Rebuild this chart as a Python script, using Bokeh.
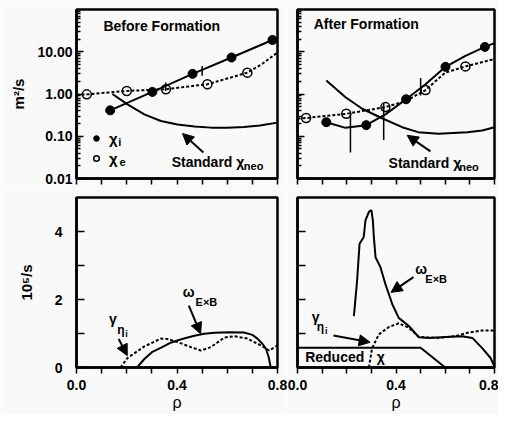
from bokeh.plotting import figure
from bokeh.layouts import column, row
from bokeh.models import (FixedTicker, PrintfTickFormatter, CustomJSTickFormatter, Label,
                          Arrow, NormalHead, Legend, LegendItem, Range1d)
from bokeh.embed import file_html
from bokeh.resources import INLINE

# ---------------- data ----------------
# Before formation (top-left)
chi_i_before_rho = [0.134, 0.302, 0.462, 0.617, 0.78]
chi_i_before = [0.41, 1.12, 3.0, 7.3, 19.0]
chi_i_before_curve_rho = [0.134, 0.302, 0.462, 0.617, 0.78, 0.8]
chi_i_before_curve = [0.41, 1.12, 3.0, 7.3, 19.0, 21.0]
chi_e_before_rho = [0.041, 0.2, 0.356, 0.521, 0.68]
chi_e_before = [0.98, 1.18, 1.3, 1.7, 3.2]
chi_e_before_curve_rho = [0.0, 0.041, 0.2, 0.356, 0.521, 0.68, 0.74, 0.8]
chi_e_before_curve = [0.96, 0.98, 1.18, 1.3, 1.7, 3.2, 5.2, 9.6]
neo_before_rho = [0.143, 0.203, 0.27, 0.336, 0.402, 0.47, 0.535, 0.6, 0.667, 0.73, 0.8]
neo_before = [1.0, 0.57, 0.33, 0.23, 0.19, 0.17, 0.16, 0.158, 0.165, 0.18, 0.21]
err_before_rho = [0.355, 0.5]
err_before_low = [1.17, 2.7]
err_before_high = [1.86, 4.6]

# After formation (top-right)
chi_i_after_rho = [0.117, 0.279, 0.441, 0.601, 0.761]
chi_i_after = [0.215, 0.183, 0.75, 4.4, 13.0]
chi_i_after_curve_rho = [0.117, 0.195, 0.279, 0.357, 0.441, 0.52, 0.601, 0.682, 0.761, 0.8]
chi_i_after_curve = [0.215, 0.158, 0.183, 0.33, 0.75, 1.7, 4.4, 8.0, 13.0, 16.0]
chi_e_after_rho = [0.035, 0.198, 0.357, 0.52, 0.682]
chi_e_after = [0.27, 0.34, 0.49, 1.24, 4.5]
chi_e_after_curve_rho = [0.0, 0.035, 0.198, 0.357, 0.44, 0.52, 0.6, 0.682, 0.8]
chi_e_after_curve = [0.26, 0.27, 0.34, 0.49, 0.68, 1.24, 3.2, 4.5, 6.7]
neo_after_rho = [0.117, 0.195, 0.263, 0.341, 0.425, 0.49, 0.573, 0.69, 0.75, 0.8]
neo_after = [2.08, 0.84, 0.447, 0.27, 0.164, 0.125, 0.114, 0.125, 0.137, 0.164]
err_after_rho = [0.215, 0.35, 0.5]
err_after_low = [0.041, 0.081, 0.92]
err_after_high = [0.35, 0.6, 2.4]

# Rates, before (bottom-left), units 10^5/s
gamma_before_rho = [0.175, 0.203, 0.27, 0.336, 0.362, 0.402, 0.455, 0.495, 0.535, 0.588,
                    0.628, 0.68, 0.734, 0.767, 0.8]
gamma_before = [0.0, 0.28, 0.62, 0.85, 0.84, 0.75, 0.6, 0.5, 0.6, 0.88, 0.92, 0.85, 0.65, 0.5, 0.65]
omega_before_rho = [0.241, 0.27, 0.30, 0.341, 0.375, 0.407, 0.442, 0.474, 0.508, 0.55, 0.606,
                    0.667, 0.70, 0.72, 0.74, 0.754, 0.765, 0.773]
omega_before = [0.0, 0.25, 0.45, 0.6, 0.73, 0.81, 0.88, 0.94, 0.99, 1.02, 1.04, 1.03, 0.96,
                0.85, 0.7, 0.55, 0.3, 0.0]

# Rates, after (bottom-right)
omega_after_rho = [0.229, 0.242, 0.252, 0.269, 0.276, 0.29, 0.30, 0.306, 0.31, 0.317, 0.337,
                   0.357, 0.385, 0.411, 0.452, 0.493, 0.533, 0.60, 0.669, 0.71, 0.75, 0.784, 0.8]
omega_after = [1.51, 2.55, 3.64, 3.84, 4.33, 4.58, 4.63, 4.33, 3.84, 3.24, 2.95, 2.45, 1.86,
               1.46, 1.22, 0.89, 0.87, 0.9, 0.92, 0.87, 0.57, 0.28, 0.03]
gamma_after_rho = [0.29, 0.303, 0.33, 0.371, 0.411, 0.452, 0.493, 0.573, 0.64, 0.695, 0.75, 0.8]
gamma_after = [0.0, 0.57, 0.97, 1.19, 1.3, 1.17, 0.9, 0.87, 0.92, 1.03, 1.09, 1.09]
reduced_chi_rho = [0.0, 0.5, 0.6]
reduced_chi = [0.58, 0.58, 0.0]

# ticks
x_major = [0.0, 0.4, 0.8]
x_minor = [0.1, 0.2, 0.3, 0.5, 0.6, 0.7]
log_major = [0.01, 0.1, 1.0, 10.0]
log_minor = [k * 10.0 ** e for e in range(-2, 2) for k in range(2, 10)]
lin_major = [0, 2, 4]
lin_minor = [1, 3]

# ---------------- style ----------------
FONT = "Liberation Sans"
BG = "#f8f9f8"
DOT = "3 2"


def make_fig(fw, fh, left, right, top, bottom, log=False):
    kw = dict(frame_width=fw, frame_height=fh, x_range=Range1d(0, 0.8),
              output_backend="svg", toolbar_location=None,
              min_border_left=left, min_border_right=right,
              min_border_top=top, min_border_bottom=bottom,
              background_fill_color=BG, border_fill_color=BG,
              outline_line_color="black", outline_line_width=2.5)
    if log:
        p = figure(y_axis_type="log", y_range=Range1d(0.01, 100), **kw)
    else:
        p = figure(y_range=Range1d(0, 5), **kw)
    p.grid.visible = False
    xa = p.xaxis[0]
    xa.ticker = FixedTicker(ticks=x_major, minor_ticks=x_minor)
    xa.major_tick_in = 0
    xa.major_tick_out = 6
    xa.minor_tick_in = 0
    xa.minor_tick_out = 6
    ya = p.yaxis[0]
    if log:
        ya.ticker = FixedTicker(ticks=log_major, minor_ticks=log_minor)
        ya.major_tick_in = 7
        ya.minor_tick_in = 4
    else:
        ya.ticker = FixedTicker(ticks=lin_major, minor_ticks=lin_minor)
        ya.major_tick_in = 8
        ya.minor_tick_in = 8
    ya.major_tick_out = 0
    ya.minor_tick_out = 0
    for a in (xa, ya):
        a.axis_line_width = 2.5
        a.axis_line_color = "black"
        a.major_tick_line_width = 1.5
        a.minor_tick_line_width = 1.5
        a.major_tick_line_color = "black"
        a.minor_tick_line_color = "black"
        a.major_label_text_font = FONT
        a.major_label_text_font_style = "bold"
        a.major_label_text_font_size = "14px"
        a.major_label_text_color = "black"
        a.axis_label_text_font = FONT
        a.axis_label_text_font_style = "bold"
        a.axis_label_text_font_size = "15px"
        a.axis_label_text_color = "black"
    return p


def hide_labels(axis):
    axis.formatter = CustomJSTickFormatter(code="return ''")
    axis.major_label_text_font_size = "0px"
    axis.major_label_standoff = 0


def lab(p, x, y, text, size=14, style="bold"):
    p.add_layout(Label(x=x, y=y, text=text, text_font=FONT, text_font_size=f"{size}px",
                       text_font_style=style, text_baseline="middle", text_align="left",
                       text_color="black"))


def arr(p, x0, y0, x1, y1):
    p.add_layout(Arrow(end=NormalHead(size=11, fill_color="black", line_color="black",
                                      line_width=1),
                       x_start=x0, y_start=y0, x_end=x1, y_end=y1,
                       line_width=2, line_color="black"))


# ---------------- top-left ----------------
p1 = make_fig(201, 169, 76, 10, 9, 10, log=True)
hide_labels(p1.xaxis[0])
p1.yaxis[0].formatter = PrintfTickFormatter(format="%.2f")
p1.yaxis[0].major_label_standoff = 4
p1.yaxis[0].axis_label = "m²/s"
p1.yaxis[0].axis_label_standoff = 7

p1.line(neo_before_rho, neo_before, line_color="black", line_width=2)
p1.line(chi_e_before_curve_rho, chi_e_before_curve, line_color="black", line_width=2,
        line_dash=DOT)
p1.line(chi_i_before_curve_rho, chi_i_before_curve, line_color="black", line_width=2)
p1.segment(err_before_rho, err_before_low, err_before_rho, err_before_high,
           line_color="black", line_width=1.5)
ri = p1.scatter(chi_i_before_rho, chi_i_before, size=9, fill_color="black",
                line_color="black")
re = p1.scatter(chi_e_before_rho, chi_e_before, size=9, fill_color=None,
                line_color="black", line_width=1.5)
leg = Legend(items=[LegendItem(label="χ", renderers=[ri]), LegendItem(label="χ", renderers=[re])],
             location=(13, 10), margin=0, padding=0, spacing=0, glyph_width=14,
             glyph_height=20, label_height=20, label_standoff=6,
             label_text_font=FONT, label_text_font_style="bold", label_text_font_size="15px",
             label_text_color="black",
             background_fill_alpha=0, border_line_color=None)
p1.add_layout(leg)
lab(p1, 0.166, 0.0723, "i", size=11)
lab(p1, 0.171, 0.0252, "e", size=11)
lab(p1, 0.107, 41.8, "Before Formation")
lab(p1, 0.379, 0.0243, "Standard χ")
lab(p1, 0.666, 0.0203, "neo", size=11)
arr(p1, 0.505, 0.041, 0.422, 0.116)

# ---------------- top-right ----------------
p2 = make_fig(197, 169, 10, 4, 9, 10, log=True)
hide_labels(p2.xaxis[0])
hide_labels(p2.yaxis[0])
p2.line(neo_after_rho, neo_after, line_color="black", line_width=2)
p2.line(chi_e_after_curve_rho, chi_e_after_curve, line_color="black", line_width=2,
        line_dash=DOT)
p2.line(chi_i_after_curve_rho, chi_i_after_curve, line_color="black", line_width=2)
p2.segment(err_after_rho, err_after_low, err_after_rho, err_after_high,
           line_color="black", line_width=1.5)
p2.scatter(chi_i_after_rho, chi_i_after, size=9, fill_color="black", line_color="black")
p2.scatter(chi_e_after_rho, chi_e_after, size=9, fill_color=None, line_color="black",
           line_width=1.5)
lab(p2, 0.066, 45.9, "After Formation")
lab(p2, 0.37, 0.0238, "Standard χ")
lab(p2, 0.657, 0.0192, "neo", size=11)
arr(p2, 0.54, 0.044, 0.4455, 0.105)

# ---------------- bottom-left ----------------
p3 = make_fig(201, 170, 76, 10, 9, 47)
p3.xaxis[0].formatter = PrintfTickFormatter(format="%.1f")
p3.xaxis[0].major_label_standoff = 6
p3.xaxis[0].axis_label = "ρ"
p3.xaxis[0].axis_label_standoff = 1
p3.xaxis[0].axis_label_text_font_size = "16px"
p3.xaxis[0].axis_label_text_font_style = "normal"
p3.yaxis[0].formatter = PrintfTickFormatter(format="%d")
p3.yaxis[0].major_label_standoff = 14
p3.yaxis[0].axis_label = "10⁵/s"
p3.yaxis[0].axis_label_standoff = 17
p3.line(gamma_before_rho, gamma_before, line_color="black", line_width=2, line_dash=DOT)
p3.line(omega_before_rho, omega_before, line_color="black", line_width=2)
lab(p3, 0.129, 1.44, "γ", size=14)
lab(p3, 0.162, 1.09, "η", size=12)
lab(p3, 0.194, 0.98, "i", size=9)
lab(p3, 0.423, 2.21, "ω", size=14)
lab(p3, 0.474, 1.92, "E×B", size=11)
arr(p3, 0.168, 0.84, 0.202, 0.35)
arr(p3, 0.447, 1.82, 0.494, 0.99)

# ---------------- bottom-right ----------------
p4 = make_fig(197, 170, 10, 4, 9, 47)
p4.xaxis[0].formatter = PrintfTickFormatter(format="%.1f")
p4.xaxis[0].major_label_standoff = 6
p4.xaxis[0].axis_label = "ρ"
p4.xaxis[0].axis_label_standoff = 1
p4.xaxis[0].axis_label_text_font_size = "16px"
p4.xaxis[0].axis_label_text_font_style = "normal"
hide_labels(p4.yaxis[0])
p4.line(reduced_chi_rho, reduced_chi, line_color="black", line_width=2)
p4.line(gamma_after_rho, gamma_after, line_color="black", line_width=2, line_dash=DOT)
p4.line(omega_after_rho, omega_after, line_color="black", line_width=2)
lab(p4, 0.058, 1.5, "γ", size=14)
lab(p4, 0.078, 1.18, "η", size=12)
lab(p4, 0.112, 1.07, "i", size=9)
lab(p4, 0.478, 2.91, "ω", size=14)
lab(p4, 0.519, 2.59, "E×B", size=11)
lab(p4, 0.031, 0.3, "Reduced")
lab(p4, 0.322, 0.3, "χ")
arr(p4, 0.471, 2.66, 0.38, 2.21)
arr(p4, 0.146, 0.94, 0.295, 0.74)

layout = column(row(p1, p2), row(p3, p4))
open("out.html", "w").write(file_html(layout, INLINE))
